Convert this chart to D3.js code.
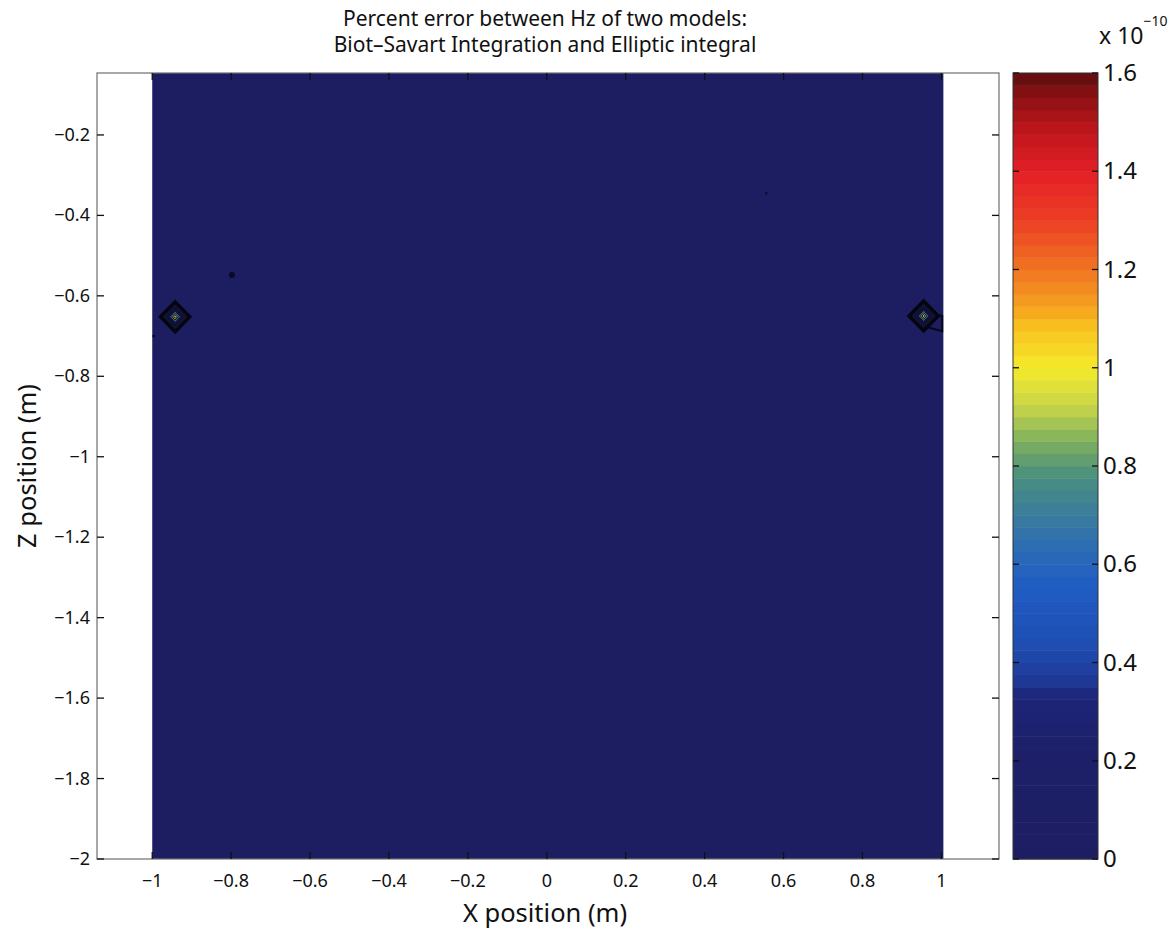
<!DOCTYPE html>
<html>
<head>
<meta charset="utf-8">
<script src="https://cdn.jsdelivr.net/npm/d3@7"></script>
<style>
  body { margin: 0; background: #fff; }
  svg { display: block; font-family: "Noto Sans", "Open Sans", sans-serif; }
</style>
</head>
<body>
<div id="chart"></div>
<script>
// Percent error map (Biot-Savart vs elliptic integral), values x 1e-10

// Axis ticks
const xTicks = [-1, -0.8, -0.6, -0.4, -0.2, 0, 0.2, 0.4, 0.6, 0.8, 1];
const zTicks = [-2, -1.8, -1.6, -1.4, -1.2, -1, -0.8, -0.6, -0.4, -0.2];
const cbTicks = [0, 0.2, 0.4, 0.6, 0.8, 1, 1.2, 1.4, 1.6];

// Data extent of the computed grid
const xData = [-1, 1.005];
const zData = [-2, -0.046];
const backgroundLevel = 0;

// Colormap as seen on the colorbar
const stopValues = [0, 0.2, 0.33, 0.37, 0.45, 0.55, 0.62, 0.7, 0.78, 0.85, 0.92, 1.0, 1.08, 1.15, 1.22, 1.3, 1.4, 1.48, 1.55, 1.6];
const stopColors = ["#1d1e62", "#1d1f68", "#1d2577", "#1f3c9c", "#1f50b5", "#1f5cc4", "#2a69b8", "#3a7c9e", "#4a8f7e",
                    "#7db05e", "#c7d54a", "#f5ea2a", "#f8c21f", "#f49120", "#f06a22", "#ec3f25", "#e41f26", "#c0161d", "#8e1115", "#5c0c0e"];
const nBands = 64;

// Error peaks at the coil wires
const peaks = [{x: -0.942, z: -0.652}, {x: 0.955, z: -0.650}];
// nested contour levels around each peak (level, half size in m)
const ringLevels = [0.02, 0.06, 0.7, 0.95, 1.15];
const ringSizes = [0.037, 0.022, 0.014, 0.008, 0.004];

// Clipped contour line next to the right peak
const tail = [[0.99, -0.648], [1.002, -0.650], [1.002, -0.688], [0.966, -0.678]];

// Small spots in the field
const spots = [{x: -0.798, z: -0.548, r: 3}, {x: 0.556, z: -0.345, r: 1.2}, {x: -0.996, z: -0.70, r: 1.5}];

const width = 1175, height = 939;
const mLeft = 97, mRight = 999, mTop = 73, mBottom = 859;
const cbLeft = 1013, cbRight = 1098;

const x = d3.scaleLinear().domain([-1.14, 1.146]).range([mLeft, mRight]);
const z = d3.scaleLinear().domain([-2, -0.046]).range([mBottom, mTop]);
const cb = d3.scaleLinear().domain([0, 1.6]).range([mBottom, mTop]);
const color = d3.scaleLinear().domain(stopValues).range(stopColors).interpolate(d3.interpolateRgb).clamp(true);

const svg = d3.select("#chart").append("svg")
    .attr("width", width).attr("height", height);

// Title
svg.append("text")
    .attr("x", 545).attr("y", 26)
    .attr("text-anchor", "middle").attr("font-size", 21).attr("fill", "#111")
  .call(t => t.append("tspan").attr("x", 545).text("Percent error between Hz of two models:"))
  .call(t => t.append("tspan").attr("x", 545).attr("dy", 26).text("Biot\u2013Savart Integration and Elliptic integral"));

// Field
svg.append("rect")
    .attr("x", x(xData[0])).attr("y", z(zData[1]))
    .attr("width", x(xData[1]) - x(xData[0]))
    .attr("height", z(zData[0]) - z(zData[1]))
    .attr("fill", color(backgroundLevel));

const diamond = (p, s) => [[p.x - s, p.z], [p.x, p.z + s], [p.x + s, p.z], [p.x, p.z - s]]
    .map(d => [x(d[0]), z(d[1])].join(",")).join(" ");

peaks.forEach(p => {
  const g = svg.append("g");
  ringLevels.forEach((lv, i) => {
    g.append("polygon")
      .attr("points", diamond(p, ringSizes[i]))
      .attr("fill", i < 2 ? "#121338" : color(lv))
      .attr("fill-opacity", i < 2 ? 1 : 0.75)
      .attr("stroke", i === 0 ? "#050510" : "#0d0e2a")
      .attr("stroke-width", i === 0 ? 3.5 : 1);
  });
});

svg.append("path")
    .attr("d", d3.line().x(d => x(d[0])).y(d => z(d[1]))(tail))
    .attr("fill", "none").attr("stroke", "#07071a").attr("stroke-width", 2);

svg.append("g").selectAll("circle").data(spots).join("circle")
    .attr("cx", d => x(d.x)).attr("cy", d => z(d.z)).attr("r", d => d.r)
    .attr("fill", "#0a0a22");

// Axes box and ticks
svg.append("rect")
    .attr("x", mLeft).attr("y", mTop).attr("width", mRight - mLeft).attr("height", mBottom - mTop)
    .attr("fill", "none").attr("stroke", "#6e6e6e").attr("stroke-width", 1.2);

const tl = 7;
const ticks = svg.append("g").attr("stroke", "#111").attr("stroke-width", 1.3);
xTicks.forEach(t => {
  ticks.append("line").attr("x1", x(t)).attr("x2", x(t)).attr("y1", mBottom).attr("y2", mBottom - tl);
  ticks.append("line").attr("x1", x(t)).attr("x2", x(t)).attr("y1", mTop).attr("y2", mTop + tl);
});
zTicks.forEach(t => {
  ticks.append("line").attr("x1", mLeft).attr("x2", mLeft + tl).attr("y1", z(t)).attr("y2", z(t));
  ticks.append("line").attr("x1", mRight).attr("x2", mRight - tl).attr("y1", z(t)).attr("y2", z(t));
});

const fmt = v => d3.format("")(v).replace("-", "\u2212");

svg.append("g").selectAll("text").data(xTicks).join("text")
    .attr("x", d => x(d)).attr("y", 887)
    .attr("text-anchor", "middle").attr("font-size", 18).attr("fill", "#111")
    .text(fmt);

svg.append("g").selectAll("text").data(zTicks).join("text")
    .attr("x", 90).attr("y", d => z(d) + 6)
    .attr("text-anchor", "end").attr("font-size", 18).attr("fill", "#111")
    .text(fmt);

svg.append("text")
    .attr("x", 545).attr("y", 922)
    .attr("text-anchor", "middle").attr("font-size", 25.5).attr("fill", "#111")
    .text("X position (m)");

svg.append("text")
    .attr("transform", `translate(36,${(mTop + mBottom) / 2}) rotate(-90)`)
    .attr("text-anchor", "middle").attr("font-size", 25.5).attr("fill", "#111")
    .text("Z position (m)");

// Colorbar
const bands = d3.range(nBands).map(i => ({lo: i * 1.6 / nBands, hi: (i + 1) * 1.6 / nBands}));
svg.append("g").selectAll("rect").data(bands).join("rect")
    .attr("x", cbLeft).attr("width", cbRight - cbLeft)
    .attr("y", d => cb(d.hi)).attr("height", d => cb(d.lo) - cb(d.hi) + 0.5)
    .attr("fill", d => color((d.lo + d.hi) / 2));

svg.append("rect")
    .attr("x", cbLeft).attr("y", mTop).attr("width", cbRight - cbLeft).attr("height", mBottom - mTop)
    .attr("fill", "none").attr("stroke", "#333").attr("stroke-width", 1);

const cbt = svg.append("g").attr("stroke", "#111").attr("stroke-width", 1.3);
cbTicks.forEach(t => {
  cbt.append("line").attr("x1", cbLeft).attr("x2", cbLeft + 6).attr("y1", cb(t)).attr("y2", cb(t));
  cbt.append("line").attr("x1", cbRight).attr("x2", cbRight - 6).attr("y1", cb(t)).attr("y2", cb(t));
});

svg.append("g").selectAll("text").data(cbTicks).join("text")
    .attr("x", 1103).attr("y", d => cb(d) + 8)
    .attr("font-size", 24).attr("fill", "#111")
    .text(d => d3.format("")(d));

svg.append("text")
    .attr("x", 1099).attr("y", 44)
    .attr("font-size", 23).attr("fill", "#111")
    .text("x 10")
  .append("tspan")
    .attr("dy", -18).attr("font-size", 14)
    .text("\u221210");
</script>
</body>
</html>
